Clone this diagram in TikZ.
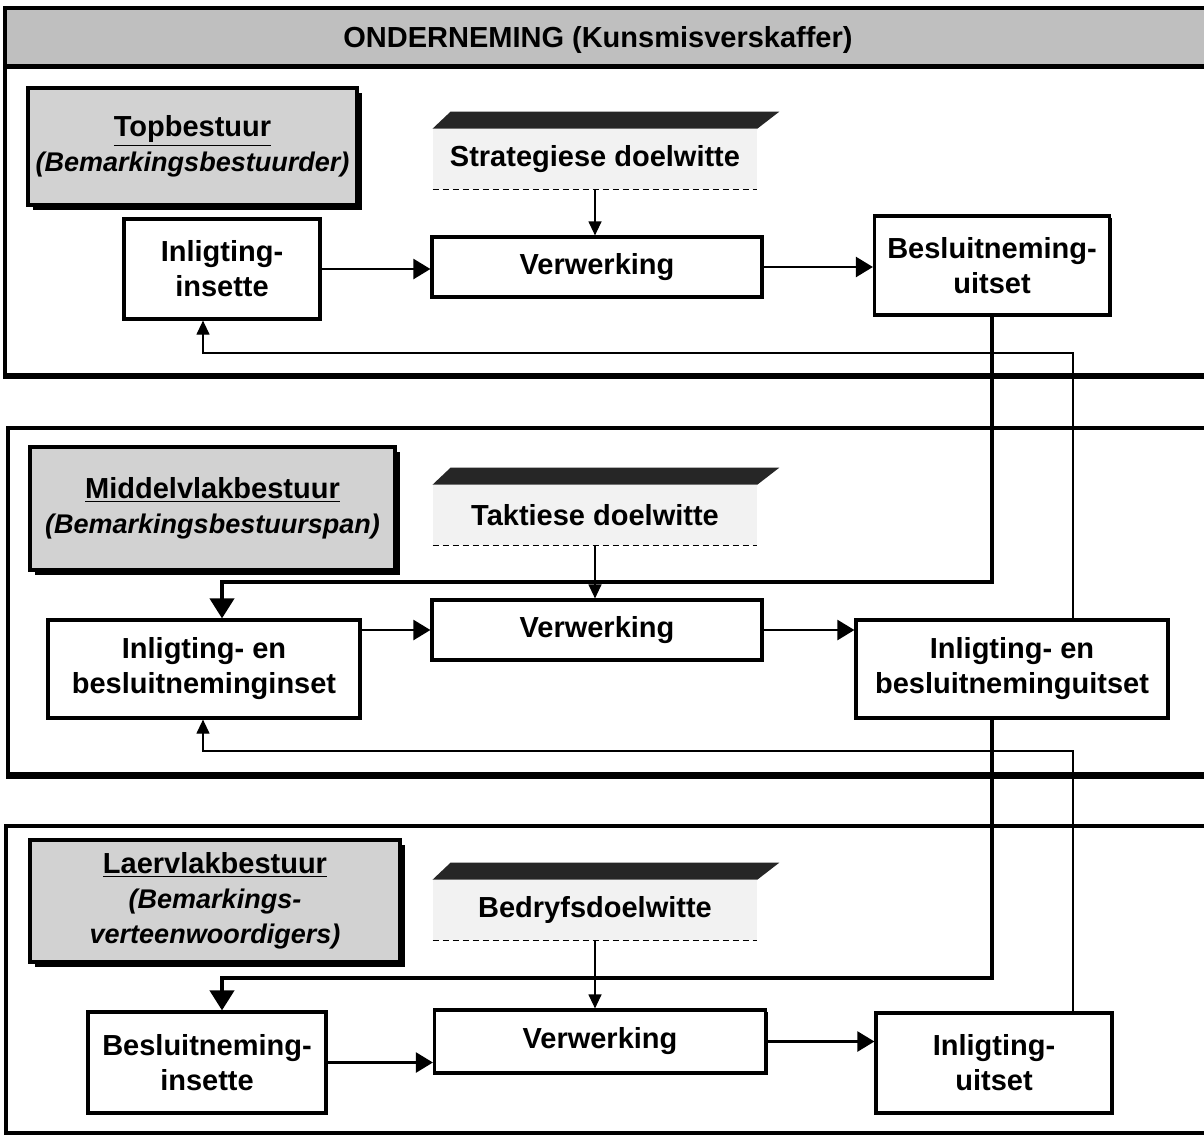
\documentclass[tikz,border=0pt]{standalone}
\usepackage{fontspec}
\setmainfont{Liberation Sans}
\usepackage{xcolor}
\usetikzlibrary{arrows.meta, shadows}

\begin{document}
\begin{tikzpicture}[x=0.5pt, y=-0.5pt, >={Triangle[length=7pt, width=6.5pt]},
    font=\fontsize{14.5}{17.5}\selectfont\bfseries,
    raam/.style={line width=1.6pt},
    band/.style={fill=gray!50},
    prosesbox/.style={draw, fill=white, line width=1.6pt, align=center, inner sep=2pt,
        drop shadow={shadow xshift=1.2pt, shadow yshift=-1.2pt, fill=black, opacity=1}},
    etikbox/.style={draw, fill=gray!35, line width=1.6pt, align=center,
        drop shadow={shadow xshift=2.5pt, shadow yshift=-2.5pt, fill=black, opacity=1}},
    doelbox/.style={fill=gray!10, minimum width=162pt, minimum height=30pt, inner sep=0pt},
    vloeipyl/.style={-{Triangle[length=8.5pt, width=10pt]}, line width=1.2pt},
    dikpyl/.style={-{Triangle[length=10pt, width=12pt]}, line width=2pt},
    dunpyl/.style={->, line width=0.6pt}]
    \useasboundingbox (0,0) rectangle (1204,1136);
    \clip (0,0) rectangle (1204,1136);

    % Raam bo
    \fill[band] (5,8) rectangle (1210,66);
    \draw[raam] (5,8) rectangle (1210,377);
    \draw[line width=2.5pt] (5,66) -- (1210,66);
    \draw[line width=3pt] (5,376) -- (1210,376);
    \node (titel) at (598,40) {ONDERNEMING (Kunsmisverskaffer)};
    % Raam middel
    \draw[raam] (8,428) rectangle (1210,777);
    \draw[line width=3pt] (8,775) -- (1210,775);
    % Raam onder
    \draw[raam] (6,826) rectangle (1210,1133);

    % Bestuursvlakke
    \node[etikbox, minimum width=164.5pt, minimum height=58.5pt] (vlak1) at (192.5,146.5)
        {\underline{Topbestuur}\\{\fontsize{13.5}{17}\selectfont\itshape(Bemarkingsbestuurder)}};
    \node[etikbox, minimum width=182.5pt, minimum height=61.5pt] (vlak2) at (212.5,508.5)
        {\underline{Middelvlakbestuur}\\{\fontsize{13.5}{17}\selectfont\itshape(Bemarkingsbestuurspan)}};
    \node[etikbox, minimum width=185pt, minimum height=61pt] (vlak3) at (215,901)
        {\underline{Laervlakbestuur}\\{\fontsize{13.5}{17}\selectfont\itshape(Bemarkings-}\\
         {\fontsize{13.5}{17}\selectfont\itshape verteenwoordigers)}};

    % Doelwitte
    \node[doelbox] (doel1) at (595,159) {Strategiese doelwitte};
    \node[doelbox] (doel2) at (595,515) {Taktiese doelwitte};
    \node[doelbox] (doel3) at (595,910) {Bedryfsdoelwitte};
    \foreach \d in {doel1, doel2, doel3} {
        \fill[black!85] (\d.north west) -- ([xshift=9pt, yshift=8.5pt]\d.north west)
            -- ([xshift=11pt, yshift=8.5pt]\d.north east) -- (\d.north east) -- cycle;
        \draw[densely dashed, line width=0.8pt] (\d.south west) -- (\d.south east);
    }

    % Prosesse bo
    \node[prosesbox, minimum width=98pt, minimum height=50pt] (ins1) at (222,269) {Inligting-\\insette};
    \node[prosesbox, minimum width=165pt, minimum height=30pt] (ver1) at (597,267) {Verwerking};
    \node[prosesbox, minimum width=117.5pt, minimum height=49.5pt] (uit1) at (992,265.5) {Besluitneming-\\uitset};
    % Prosesse middel
    \node[prosesbox, minimum width=156pt, minimum height=49pt] (ins2) at (204,669) {Inligting- en\\besluitneminginset};
    \node[prosesbox, minimum width=165pt, minimum height=30pt] (ver2) at (597,630) {Verwerking};
    \node[prosesbox, minimum width=156pt, minimum height=49pt] (uit2) at (1012,669) {Inligting- en\\besluitneminguitset};
    % Prosesse onder
    \node[prosesbox, minimum width=119pt, minimum height=50.5pt] (ins3) at (207,1062.5) {Besluitneming-\\insette};
    \node[prosesbox, minimum width=165.5pt, minimum height=31.5pt] (ver3) at (600,1041.5) {Verwerking};
    \node[prosesbox, minimum width=118pt, minimum height=50pt] (uit3) at (994,1063) {Inligting-\\uitset};

    % Vloei binne elke vlak
    \draw[vloeipyl] (ins1.east) -- (ins1.east -| ver1.west);
    \draw[vloeipyl] (ver1.east) -- (ver1.east -| uit1.west);
    \draw[vloeipyl] (ver2.west -| ins2.east) -- (ver2.west);
    \draw[vloeipyl] (ver2.east) -- (ver2.east -| uit2.west);
    \draw[vloeipyl] (ins3.east) -- (ins3.east -| ver3.west);
    \draw[vloeipyl] (ver3.east) -- (ver3.east -| uit3.west);
    \draw[dunpyl] (doel1.south) -- (doel1.south |- ver1.north);
    \draw[dunpyl] (doel2.south) -- (doel2.south |- ver2.north);
    \draw[dunpyl] (doel3.south) -- (doel3.south |- ver3.north);

    % Besluite afwaarts
    \coordinate (d1) at (222,582);
    \coordinate (d2) at (222,978);
    \draw[dikpyl] (uit1.south) |- (d1) -- (d1 |- ins2.north);
    \draw[dikpyl] (uit1.south |- uit2.south) |- (d2) -- (d2 |- ins3.north);

    % Inligting opwaarts
    \coordinate (t1) at (1073,353);
    \coordinate (t1b) at (203,353);
    \coordinate (t2) at (1073,751);
    \coordinate (t2b) at (203,751);
    \draw[dunpyl] (uit2.north -| t1) -- (t1) -- (t1b) -- (t1b |- ins1.south);
    \draw[dunpyl] (uit3.north -| t2) -- (t2) -- (t2b) -- (t2b |- ins2.south);
\end{tikzpicture}
\end{document}
